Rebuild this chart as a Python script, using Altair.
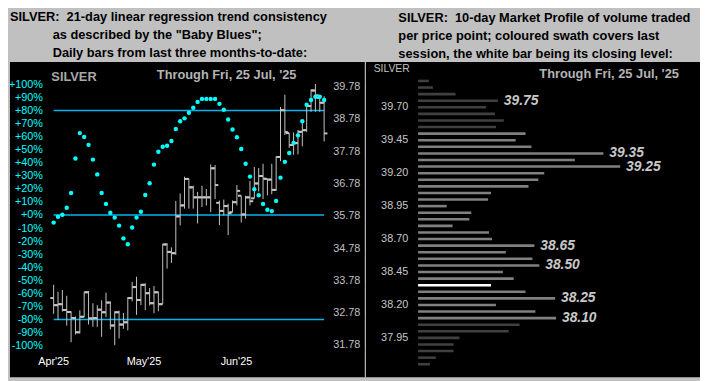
import altair as alt
import pandas as pd

# ---------------- data: left panel (daily OHLC + "Baby Blues") ----------------
opens = [33.25, 33.03, 33.06, 32.88, 32.82, 32.63, 32.19, 32.67, 33.43, 32.62,
         32.63, 32.89, 32.81, 33.11, 32.40, 32.81, 32.43, 32.50, 33.25, 33.59,
         33.19, 33.66, 33.40, 33.09, 33.43, 33.06, 34.91, 34.68, 34.64, 35.78,
         36.12, 36.94, 36.68, 36.37, 36.37, 36.37, 36.37, 37.27, 36.20, 35.95,
         36.10, 35.91, 36.22, 36.42, 35.84, 36.37, 36.34, 36.80, 37.03, 36.94,
         36.92, 36.60, 37.62, 39.07, 38.36, 37.99, 38.05, 38.40, 38.45, 39.20,
         39.68, 39.45, 39.30]
highs = [33.66, 33.45, 33.50, 33.32, 32.84, 32.68, 32.87, 33.44, 33.47, 33.09,
         33.03, 33.18, 33.42, 33.15, 32.84, 32.86, 32.79, 33.28, 33.75, 33.91,
         33.69, 33.71, 33.56, 33.62, 33.45, 34.93, 34.95, 34.82, 36.26, 36.49,
         37.01, 36.95, 36.73, 36.54, 36.73, 36.63, 37.39, 37.37, 36.27, 36.30,
         36.17, 36.27, 36.75, 36.42, 36.42, 36.88, 37.31, 37.28, 37.41, 36.94,
         37.41, 37.64, 39.17, 39.55, 38.36, 38.38, 38.46, 38.70, 39.27, 39.72,
         39.88, 39.50, 39.50]
lows = [32.76, 32.57, 32.83, 32.40, 31.88, 32.12, 32.15, 32.66, 32.43, 32.36,
        32.36, 32.05, 32.66, 32.28, 31.79, 32.00, 32.30, 32.25, 33.15, 32.73,
        33.03, 32.88, 33.02, 32.78, 32.84, 33.06, 34.16, 34.34, 34.59, 35.50,
        36.02, 36.02, 36.02, 35.56, 36.07, 36.12, 35.91, 36.32, 35.51, 35.81,
        35.20, 35.91, 36.12, 35.59, 35.71, 36.12, 36.34, 36.55, 36.32, 36.43,
        36.47, 36.57, 37.49, 38.30, 37.90, 37.69, 37.70, 37.95, 38.40, 39.02,
        39.02, 39.02, 38.10]
closes = [33.03, 33.06, 32.88, 32.82, 32.63, 32.19, 32.67, 33.43, 32.62, 32.63,
          32.89, 32.81, 33.11, 32.40, 32.81, 32.43, 32.50, 33.25, 33.59, 33.19,
          33.66, 33.40, 33.09, 33.43, 33.06, 34.91, 34.68, 34.64, 35.78, 36.12,
          36.94, 36.68, 36.37, 36.37, 36.37, 36.37, 37.27, 36.75, 35.95, 36.10,
          35.88, 36.22, 36.57, 35.84, 36.37, 36.25, 36.80, 37.03, 36.95, 36.92,
          36.60, 37.62, 39.07, 38.39, 37.99, 38.05, 38.40, 38.45, 39.20, 39.68,
          39.53, 39.30, 38.35]
baby_blues = [-5.8, -1.3, 0.2, 5.5, 16.8, 43.2, 62.7, 59.7, 53.7, 42.4,
              31.1, 16.8, 8.5, 1.7, -2.0, -8.1, -17.9, -22.4, -9.6, -2.0,
              2.5, 15.3, 24.3, 38.6, 48.4, 52.2, 53.0, 56.7, 65.8, 71.8,
              74.0, 78.3, 82.1, 86.6, 88.9, 88.9, 88.9, 88.9, 85.1, 80.6,
              73.1, 65.5, 59.5, 50.5, 39.2, 29.4, 19.8, 15.1, 8.5, 4.0,
              3.0, 10.8, 28.6, 40.7, 47.5, 55.2, 61.0, 71.8, 84.4, 88.1,
              90.6, 90.6, 88.1]
month_labels = ["Apr'25", "May'25", "Jun'25"]
month_pos = [0, 20.7, 41.9]
pct_ticks = [100, 90, 80, 70, 60, 50, 40, 30, 20, 10, 0,
             -10, -20, -30, -40, -50, -60, -70, -80, -90, -100]
trend_levels = [80, 0, -80]
price_ticks = [39.78, 38.78, 37.78, 36.78, 35.78, 34.78, 33.78, 32.78, 31.78]

# ---------------- data: right panel (10-day market profile) ----------------
mp_prices = [39.90, 39.85, 39.80, 39.75, 39.70, 39.65, 39.60, 39.55, 39.50, 39.45,
             39.40, 39.35, 39.30, 39.25, 39.20, 39.15, 39.10, 39.05, 39.00, 38.95,
             38.90, 38.85, 38.80, 38.75, 38.70, 38.65, 38.60, 38.55, 38.50, 38.45,
             38.40, 38.35, 38.30, 38.25, 38.20, 38.15, 38.10, 38.05, 38.00, 37.95,
             37.90, 37.85, 37.80, 37.75]
mp_volume = [11, 15, 38, 81, 69, 78, 87, 79, 109, 99,
             115, 188, 159, 205, 128, 122, 112, 74, 71, 29,
             54, 52, 35, 72, 75, 118, 89, 116, 123, 86,
             97, 74, 109, 139, 79, 119, 140, 103, 92, 42,
             36, 36, 18, 12]
mp_swath = (["prior"] * 8 + ["session"] * 23 + ["close"] + ["session"] * 5 + ["prior"] * 7)
mp_callouts = [39.75, 39.35, 39.25, 38.65, 38.50, 38.25, 38.10]
mp_ticks = [39.70, 39.45, 39.20, 38.95, 38.70, 38.45, 38.20, 37.95]

# ---------------- layout (page pixels of the reference) ----------------
OX = 8            # page x of left panel
Y_TOP = 61        # page y of panels' top
BOTTOM = 381
H = BOTTOM - Y_TOP
LW, RW, GAP = 361, 339, 0
RX = OX + LW + GAP  # page x of right panel
FONT = "Liberation Sans"
INDENT = "\u200b" + "\u00a0" * 12

def vy(y):
    return y - Y_TOP

n = len(closes)
df = pd.DataFrame({"i": list(range(n)), "o": opens, "h": highs, "l": lows,
                   "c": closes, "bb": baby_blues})

x_scale = alt.Scale(domain=[0, n - 1], range=[52.3 - OX, 326.7 - OX], nice=False, zero=False)
pct_scale = alt.Scale(domain=[-100, 100], range=[vy(348.8), vy(83.8)], nice=False, zero=False)
price_scale = alt.Scale(domain=[31.78, 39.78], range=[vy(348.7), vy(86.7)], nice=False, zero=False)

pct_axis = alt.Axis(values=pct_ticks, labelExpr="(datum.value >= 0 ? '+' : '') + datum.value + '%'",
                    orient="left", offset=-(41 - OX), domain=False, ticks=False, tickSize=0,
                    grid=False, labelPadding=0, labelColor="#00ffff", labelFontSize=11,
                    labelFont=FONT, labelOverlap=False, labelFlush=False, title=None)

lines = (alt.Chart(pd.DataFrame({"lvl": trend_levels}))
         .transform_calculate(x0="0", x1=str(n - 1))
         .mark_rule(color="#00b4f0", strokeWidth=1.5)
         .encode(x=alt.X("x0:Q", scale=x_scale, axis=None), x2="x1:Q",
                 y=alt.Y("lvl:Q", scale=pct_scale, axis=pct_axis)))

bar_col = "#c4c4c4"
vert = (alt.Chart(df).mark_rule(color=bar_col, strokeWidth=1)
        .encode(x=alt.X("i:Q", scale=x_scale, axis=None),
                y=alt.Y("l:Q", scale=price_scale, axis=None), y2="h:Q"))
otick = (alt.Chart(df).transform_calculate(xa="datum.i - 0.75")
         .mark_rule(color=bar_col, strokeWidth=2)
         .encode(x=alt.X("xa:Q", scale=x_scale, axis=None), x2="i:Q",
                 y=alt.Y("o:Q", scale=price_scale, axis=None)))
ctick = (alt.Chart(df).transform_calculate(xb="datum.i + 0.75")
         .mark_rule(color=bar_col, strokeWidth=2)
         .encode(x=alt.X("i:Q", scale=x_scale, axis=None), x2="xb:Q",
                 y=alt.Y("c:Q", scale=price_scale, axis=None)))
price_labels = (alt.Chart(pd.DataFrame({"v": price_ticks}))
                .mark_text(align="left", baseline="middle", font=FONT, fontSize=11, color="#c0c0c0")
                .encode(x=alt.value(336 - OX),
                        y=alt.Y("v:Q", scale=price_scale, axis=None),
                        text=alt.Text("v:Q", format=".2f")))
bars = alt.layer(vert, otick, ctick, price_labels)

dots = (alt.Chart(df).mark_point(filled=True, shape="circle", size=20, color="#00ffff", opacity=1)
        .encode(x=alt.X("i:Q", scale=x_scale, axis=None),
                y=alt.Y("bb:Q", scale=pct_scale, axis=None)))

month_text = (alt.Chart(pd.DataFrame({"pos": month_pos, "m": month_labels}))
              .mark_text(align="center", baseline="middle", font=FONT, fontSize=11, color="white")
              .encode(x=alt.X("pos:Q", scale=x_scale, axis=None), y=alt.value(vy(365)), text="m:N"))

def label(text, x, y, size, weight="normal", color="#b0b0b0", align="left", style="normal"):
    return (alt.Chart(pd.DataFrame({"t": [text]}))
            .mark_text(align=align, baseline="middle", font=FONT, fontSize=size,
                       fontWeight=weight, fontStyle=style, color=color)
            .encode(x=alt.value(x), y=alt.value(y), text="t:N"))

divider = (alt.Chart(pd.DataFrame({"t": [0]})).mark_rule(color="white", strokeWidth=1)
           .encode(x=alt.value(LW - 0.5), y=alt.value(0), y2=alt.value(H)))

left_texts = alt.layer(
    label("SILVER", 50 - OX, vy(76), 13, "bold", "#a8a8a8"),
    label("Through Fri, 25 Jul, '25", 157 - OX, vy(74), 13, "bold", "#b4b4b4"),
    divider,
)

left = (alt.layer(lines, bars, dots, month_text, left_texts)
        .resolve_scale(y="independent")
        .properties(width=LW, height=H,
                    title=alt.TitleParams(
                        text=["SILVER:\u00a0 21-day linear regression trend consistency",
                              INDENT + "as described by the \"Baby Blues\";",
                              INDENT + "Daily bars from last three months-to-date:"],
                        anchor="start", frame="group", font=FONT, fontSize=13,
                        fontWeight="bold", color="black", lineHeight=18.5, offset=1)))

# ---------------- right panel ----------------
prof = pd.DataFrame({"p": mp_prices, "v": mp_volume, "g": mp_swath})
vol_scale = alt.Scale(domain=[0, max(mp_volume)], range=[422 - RX, 627 - RX], nice=False, zero=True)
mp_scale = alt.Scale(domain=[37.75, 39.90], range=[vy(372.7), vy(75.3)], nice=False, zero=False)

prof_bars = (alt.Chart(prof).mark_bar(orient="horizontal")
             .encode(x=alt.X("v:Q", scale=vol_scale, axis=None),
                     y=alt.Y("p:Q", scale=mp_scale, axis=None),
                     color=alt.Color("g:N", scale=alt.Scale(domain=["prior", "session", "close"],
                                                            range=["#404040", "#808080", "#ffffff"]),
                                     legend=None),
                     size=alt.Size("g:N", scale=alt.Scale(domain=["prior", "session", "close"],
                                                          range=[2.6, 2.6, 3.6]), legend=None)))
callouts = (alt.Chart(prof)
            .transform_filter(alt.FieldOneOfPredicate(field="p", oneOf=mp_callouts))
            .mark_text(align="left", baseline="middle", dx=6, font=FONT, fontSize=14,
                       fontWeight="bold", fontStyle="italic", color="#c8c8c8")
            .encode(x=alt.X("v:Q", scale=vol_scale, axis=None),
                    y=alt.Y("p:Q", scale=mp_scale, axis=None),
                    text=alt.Text("p:Q", format=".2f")))
mp_labels = (alt.Chart(pd.DataFrame({"v": mp_ticks}))
             .mark_text(align="right", baseline="middle", font=FONT, fontSize=11, color="#c8c8c8")
             .encode(x=alt.value(412 - RX),
                     y=alt.Y("v:Q", scale=mp_scale, axis=None),
                     text=alt.Text("v:Q", format=".2f")))
right_texts = alt.layer(
    label("SILVER", 377 - RX, vy(68), 10.5, "normal", "#c0c0c0"),
    label("Through Fri, 25 Jul, '25", 545 - RX, vy(73), 13, "bold", "#b4b4b4"),
)

right = (alt.layer(prof_bars, callouts, mp_labels, right_texts)
         .properties(width=RW, height=H,
                     title=alt.TitleParams(
                         text=["SILVER:\u00a0 10-day Market Profile of volume traded",
                               "per price point; coloured swath covers last",
                               "session, the white bar being its closing level:"],
                         anchor="start", frame="group", font=FONT, fontSize=13, dx=402 - RX,
                         fontWeight="bold", color="black", lineHeight=18.5, offset=1)))

chart = (alt.hconcat(left, right, spacing=GAP)
         .properties(padding=0, background="#c0c0c0")
         .configure(font=FONT)
         .configure_view(stroke=None, fill="black"))

chart.save("out.html", embed_options={"renderer": "svg", "actions": False})
